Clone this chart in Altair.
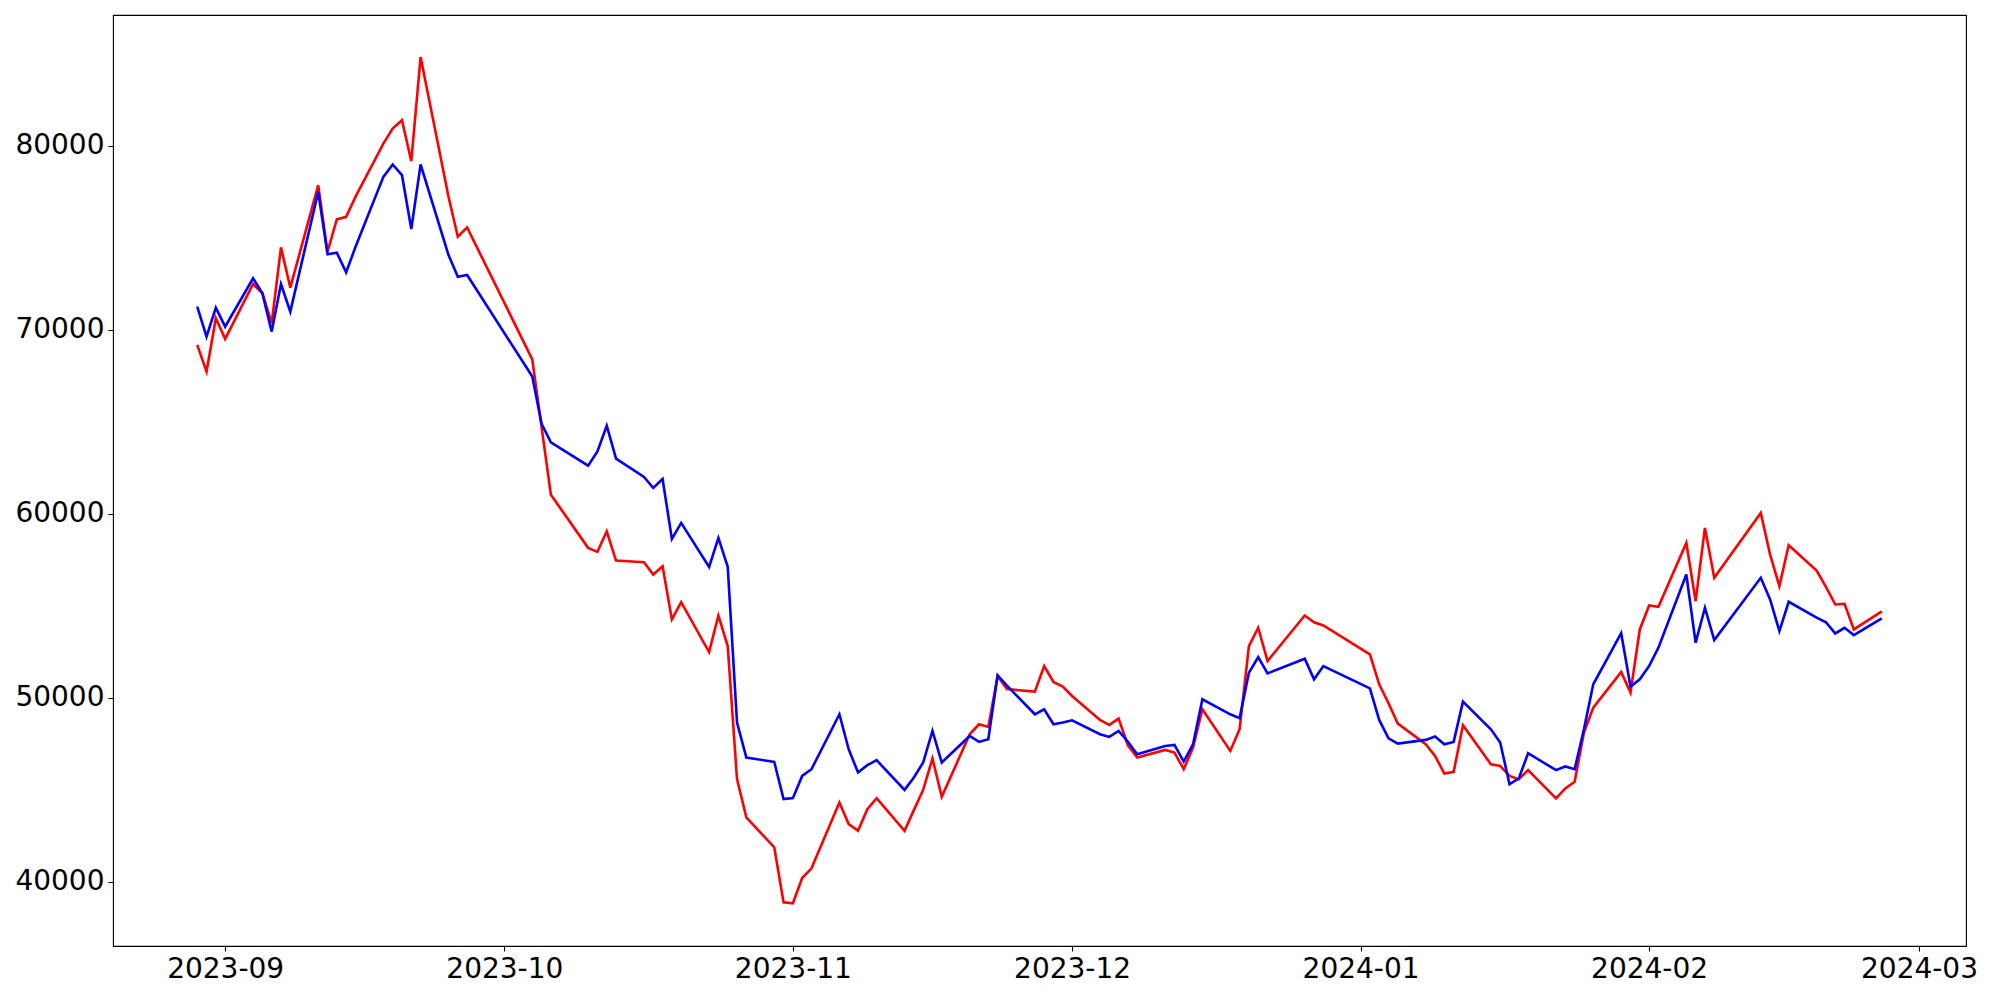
import altair as alt
import pandas as pd

dates = [
    "2023-08-29", "2023-08-30", "2023-08-31", "2023-09-01", "2023-09-04", "2023-09-05", "2023-09-06",
    "2023-09-07", "2023-09-08", "2023-09-11", "2023-09-12", "2023-09-13", "2023-09-14", "2023-09-15",
    "2023-09-18", "2023-09-19", "2023-09-20", "2023-09-21", "2023-09-22", "2023-09-25", "2023-09-26",
    "2023-09-27", "2023-10-04", "2023-10-05", "2023-10-06", "2023-10-10", "2023-10-11", "2023-10-12",
    "2023-10-13", "2023-10-16", "2023-10-17", "2023-10-18", "2023-10-19", "2023-10-20", "2023-10-23",
    "2023-10-24", "2023-10-25", "2023-10-26", "2023-10-27", "2023-10-30", "2023-10-31", "2023-11-01",
    "2023-11-02", "2023-11-03", "2023-11-06", "2023-11-07", "2023-11-08", "2023-11-09", "2023-11-10",
    "2023-11-13", "2023-11-14", "2023-11-15", "2023-11-16", "2023-11-17", "2023-11-20", "2023-11-21",
    "2023-11-22", "2023-11-23", "2023-11-24", "2023-11-27", "2023-11-28", "2023-11-29", "2023-11-30",
    "2023-12-01", "2023-12-04", "2023-12-05", "2023-12-06", "2023-12-07", "2023-12-08", "2023-12-11",
    "2023-12-12", "2023-12-13", "2023-12-14", "2023-12-15", "2023-12-18", "2023-12-19", "2023-12-20",
    "2023-12-21", "2023-12-22", "2023-12-26", "2023-12-27", "2023-12-28", "2024-01-02", "2024-01-03",
    "2024-01-04", "2024-01-05", "2024-01-08", "2024-01-09", "2024-01-10", "2024-01-11", "2024-01-12",
    "2024-01-15", "2024-01-16", "2024-01-17", "2024-01-18", "2024-01-19", "2024-01-22", "2024-01-23",
    "2024-01-24", "2024-01-25", "2024-01-26", "2024-01-29", "2024-01-30", "2024-01-31", "2024-02-01",
    "2024-02-02", "2024-02-05", "2024-02-06", "2024-02-07", "2024-02-08", "2024-02-13", "2024-02-14",
    "2024-02-15", "2024-02-16", "2024-02-19", "2024-02-20", "2024-02-21", "2024-02-22", "2024-02-23",
    "2024-02-26",
]

red_values = [
    69170, 67721, 70619, 69496, 72480, 71975, 70348,
    74471, 72279, 77851, 74232, 75990, 76131, 77211,
    80112, 80928, 81378, 79154, 84813, 77217, 75046,
    75553, 68380, 64700, 61031, 58140, 57922, 59040,
    57450, 57358, 56690, 57140, 54250, 55187, 52474,
    54460, 52800, 45567, 43489, 41861, 38877, 38823,
    40195, 40720, 44302, 43127, 42765, 43939, 44536,
    42765, 43885, 44986, 46690, 44607, 48009, 48552,
    48405, 51172, 50461, 50325, 51714, 50850, 50597,
    50090, 48787, 48516, 48860, 47400, 46742, 47158,
    47014, 46110, 47286, 49365, 47104, 48281, 52800,
    53798, 51986, 54460, 54098, 53921, 52355, 50722,
    49691, 48588, 47466, 46833, 45876, 45963, 48497,
    46381, 46290, 45747, 45567, 46056, 44520, 45062,
    45424, 48100, 49457, 51389, 50271, 53705, 55008,
    54937, 58410, 55241, 59224, 56510, 60037, 57775,
    56058, 58280, 56900, 56022, 55063, 55100, 53705,
    54683,
]

blue_values = [
    71248, 69620, 71194, 70163, 72790, 71975, 69892,
    72480, 70977, 77488, 74091, 74180, 73115, 74487,
    78302, 78975, 78394, 75464, 78975, 74053, 72876,
    72968, 67450, 64884, 63869, 62605, 63380, 64775,
    62985, 61991, 61394, 61882, 58627, 59495, 57107,
    58681, 57107, 48643, 46744, 46505, 44482, 44536,
    45746, 46109, 49094, 47195, 45929, 46327, 46598,
    44986, 45659, 46473, 48190, 46473, 47917, 47591,
    47738, 51210, 50651, 49094, 49365, 48552, 48643,
    48769, 48009, 47864, 48190, 47600, 46923, 47375,
    47429, 46527, 47466, 49908, 49094, 48877, 51353,
    52203, 51317, 52116, 50993, 51714, 50505, 48787,
    47791, 47502, 47701, 47882, 47466, 47592, 49783,
    48281, 47560, 45296, 45604, 46978, 46056, 46257,
    46110, 48281, 50722, 53500, 50600, 50993, 51714,
    52713, 56691, 52984, 54884, 53129, 56510, 55334,
    53614, 55208, 54342, 54098, 53487, 53795, 53397,
    54303,
]

x_ticks = ["2023-09-01", "2023-10-01", "2023-11-01", "2023-12-01", "2024-01-01", "2024-02-01", "2024-03-01"]
y_ticks = [40000, 50000, 60000, 70000, 80000]

df = pd.DataFrame({"date": dates, "red": red_values, "blue": blue_values})

FONT = "DejaVu Sans"

def dt(s, h=0, m=0):
    y, mo, d = (int(v) for v in s.split("-"))
    return alt.DateTime(year=y, month=mo, date=d, hours=h, minutes=m, utc=True)

x_scale = alt.Scale(type="utc", domain=[dt("2023-08-19", 22, 48), dt("2024-03-06", 1, 12)])
y_scale = alt.Scale(domain=[36500, 87100], nice=False, zero=False)

x_axis = alt.Axis(
    values=[dt(s) for s in x_ticks],
    labelExpr="utcFormat(datum.value, '%Y-%m')",
    title=None, grid=False, domain=False,
    tickSize=5, tickColor="black", tickWidth=1.1,
    labelFontSize=28, labelFont=FONT, labelColor="black", labelPadding=4,
    labelFlush=False, labelOverlap=False,
)
y_axis = alt.Axis(
    values=y_ticks, format="d",
    title=None, grid=False, domain=False,
    tickSize=5, tickColor="black", tickWidth=1.1,
    labelFontSize=28, labelFont=FONT, labelColor="black", labelPadding=4,
    labelFlush=False, labelOverlap=False,
)

base = alt.Chart(df)

red_line = base.mark_line(color="#ff0000", strokeWidth=2.6, clip=True).encode(
    x=alt.X("date:T", scale=x_scale, axis=x_axis),
    y=alt.Y("red:Q", scale=y_scale, axis=y_axis),
)
blue_line = base.mark_line(color="#0000ff", strokeWidth=2.6, clip=True).encode(
    x=alt.X("date:T", scale=x_scale, axis=x_axis),
    y=alt.Y("blue:Q", scale=y_scale, axis=y_axis),
)

chart = alt.layer(red_line, blue_line).properties(
    width=1853,
    height=931,
    autosize=alt.AutoSizeParams(type="none"),
    padding={"left": 105, "top": 7, "right": 26, "bottom": 46},
    background="white",
).configure_view(
    stroke="black", strokeWidth=1.1, fill="white"
)

chart.save("out.html", embed_options={"renderer": "svg", "actions": False})
